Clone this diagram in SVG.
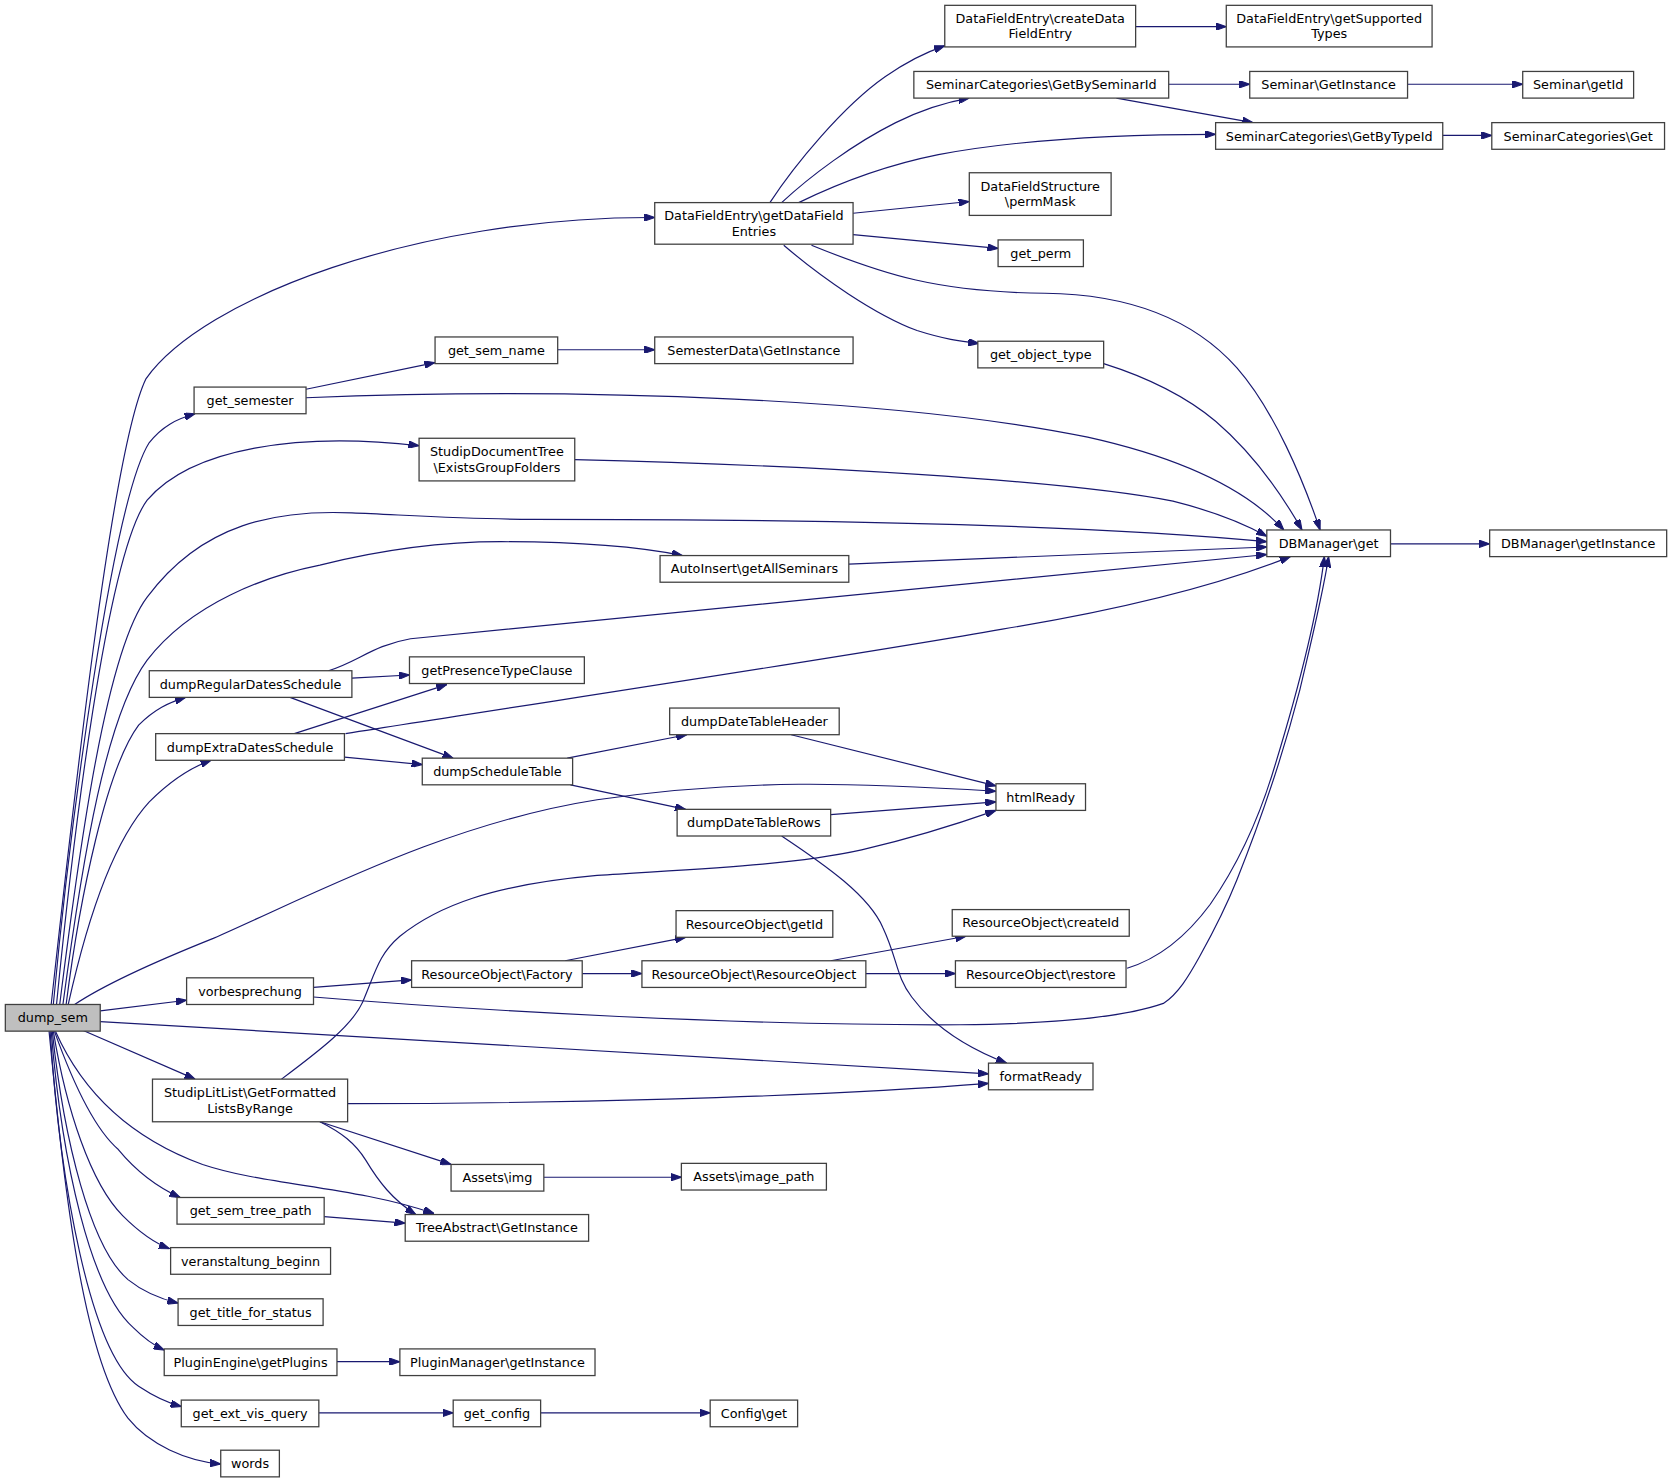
<svg xmlns="http://www.w3.org/2000/svg" width="1672" height="1483" viewBox="0 0 1672 1483">
<defs>
<marker id="a" markerWidth="10" markerHeight="7" refX="10" refY="3.5" orient="auto" markerUnits="userSpaceOnUse">
<path d="M0,0 L10,3.5 L0,7 z" fill="#191970" stroke="#191970" stroke-width="1"/>
</marker>
<style>
.n rect{fill:#ffffff;stroke:#404040;stroke-width:1.2}
.n.root rect{fill:#bfbfbf}
text{font-family:"DejaVu Sans","Liberation Sans",sans-serif;font-size:12px;text-anchor:middle;fill:#000000}
#edges path{fill:none;stroke:#191970;stroke-width:1.1;marker-end:url(#a)}
</style>
</defs>
<rect width="1672" height="1483" fill="#ffffff"/>
<g transform="scale(1.06633)">
<g id="edges">
<path d="M48,942 C68,760 105,420 137,355 C190,280 390,203 614,204"/>
<path d="M50,942 C65,780 105,470 140,415 C152,400 165,393 183,388"/>
<path d="M53,942 C68,790 100,520 138,469 C180,420 280,405 393,418"/>
<path d="M56,942 C75,790 100,610 138,560 C190,490 260,478 330,481 C380,483 440,487 500,487 C700,487 1000,490 1188,508"/>
<path d="M59,942 C78,800 100,670 138,619 C180,565 250,540 300,530 C360,515 420,508 470,508 C540,508 600,513 640,521"/>
<path d="M62,942 C75,840 100,720 130,680 C145,665 158,659 174,654"/>
<path d="M64,942 C80,870 105,790 140,752 C160,732 178,720 198,713"/>
<path d="M70,942 C100,922 150,900 200,880 C300,836 420,772 560,750 C700,730 800,734 934,742"/>
<path d="M94,948 L175,938"/>
<path d="M94,958 L927,1007"/>
<path d="M77,966 L183,1012"/>
<path d="M52,967 C80,1030 130,1070 190,1092 C250,1112 330,1112 407,1138"/>
<path d="M51,967 C70,1020 90,1060 111,1078 C125,1095 145,1112 169,1123"/>
<path d="M50,967 C62,1040 85,1110 115,1140 C130,1155 143,1165 159,1171"/>
<path d="M49,967 C60,1070 85,1170 120,1200 C135,1212 150,1218 167,1222"/>
<path d="M48,967 C58,1090 85,1210 125,1245 C135,1255 145,1262 154,1266"/>
<path d="M47,967 C56,1110 85,1270 130,1300 C145,1310 155,1315 170,1319"/>
<path d="M46,967 C58,1090 75,1270 120,1330 C140,1355 175,1370 207,1373"/>
<path d="M722,190 C745,155 790,100 830,72 C850,58 865,50 886,43"/>
<path d="M733,190 C760,165 800,135 840,115 C860,105 880,97 909,92"/>
<path d="M749,190 C790,170 830,155 880,145 C960,130 1050,126 1140,126"/>
<path d="M800,200 L909,189"/>
<path d="M800,220 L936,233"/>
<path d="M761,230 C830,258 880,274 980,275 C1060,276 1120,300 1160,345 C1195,385 1222,450 1238,497"/>
<path d="M735,230 C770,260 820,295 860,310 C885,318 900,320 918,322"/>
<path d="M1065,25 L1150,25"/>
<path d="M1096,79 L1172,79"/>
<path d="M1047,92 L1175,115"/>
<path d="M1320,79 L1428,79"/>
<path d="M1353,127 L1399,127"/>
<path d="M523,328 L614,328"/>
<path d="M287,365 L408,340"/>
<path d="M287,373 C550,362 850,375 1020,410 C1110,430 1170,460 1204,497"/>
<path d="M539,431 C750,436 1000,450 1100,470 C1140,480 1165,490 1188,503"/>
<path d="M1035,341 C1070,352 1110,370 1140,395 C1175,425 1200,460 1221,497"/>
<path d="M1304,510 L1397,510"/>
<path d="M796,529 L1188,513"/>
<path d="M308,629 C335,621 350,605 385,599 C600,578 1000,538 1188,520"/>
<path d="M330,636 L384,633"/>
<path d="M272,654 L425,711"/>
<path d="M276,688 L419,642"/>
<path d="M324,688 C500,660 800,615 940,590 C1050,572 1140,550 1210,522"/>
<path d="M323,710 L396,717"/>
<path d="M532,711 L644,689"/>
<path d="M535,736 L643,759"/>
<path d="M742,689 L934,737"/>
<path d="M779,764 L934,752"/>
<path d="M733,784 C775,812 815,840 828,870 C842,900 840,915 855,935 C875,962 905,982 944,997"/>
<path d="M264,1012 C300,985 330,962 340,940 C352,912 355,895 375,878 C410,850 460,830 560,821 C650,815 740,812 808,797 C860,785 900,772 934,760"/>
<path d="M326,1035 C500,1035 750,1030 927,1016"/>
<path d="M300,1052 L423,1092"/>
<path d="M300,1052 C320,1062 333,1072 343,1088 C355,1108 368,1125 390,1139"/>
<path d="M510,1104 L639,1104"/>
<path d="M304,1141 L380,1147"/>
<path d="M294,926 L386,919"/>
<path d="M294,935 C450,948 700,962 900,961 C1000,960 1060,952 1091,941 C1105,932 1115,915 1125,897 C1140,870 1150,850 1160,825 C1180,775 1200,720 1219,647 C1230,600 1240,560 1246,522"/>
<path d="M530,901 L643,879"/>
<path d="M546,913 L602,913"/>
<path d="M779,901 L906,878"/>
<path d="M812,913 L896,913"/>
<path d="M1057,908 C1090,898 1115,875 1135,848 C1160,812 1180,770 1195,720 C1215,655 1235,580 1242,522"/>
<path d="M316,1277 L375,1277"/>
<path d="M299,1325 L425,1325"/>
<path d="M507,1325 L666,1325"/>
</g>
<g id="n_dump_sem" class="n root"><rect x="5" y="942" width="89" height="25"/><text x="49.5" y="958.8">dump_sem</text></g>
<g id="n_createDataFieldEntry" class="n"><rect x="886" y="5" width="179" height="39"/><text x="975.5" y="21.5">DataFieldEntry\createData</text><text x="975.5" y="36">FieldEntry</text></g>
<g id="n_getSupportedTypes" class="n"><rect x="1150" y="5" width="193" height="39"/><text x="1246.5" y="21.5">DataFieldEntry\getSupported</text><text x="1246.5" y="36">Types</text></g>
<g id="n_GetBySeminarId" class="n"><rect x="857" y="67" width="239" height="25"/><text x="976.5" y="83.8">SeminarCategories\GetBySeminarId</text></g>
<g id="n_Seminar_GetInstance" class="n"><rect x="1172" y="67" width="148" height="25"/><text x="1246" y="83.8">Seminar\GetInstance</text></g>
<g id="n_Seminar_getId" class="n"><rect x="1428" y="67" width="104" height="25"/><text x="1480" y="83.8">Seminar\getId</text></g>
<g id="n_GetByTypeId" class="n"><rect x="1140" y="115" width="213" height="25"/><text x="1246.5" y="131.8">SeminarCategories\GetByTypeId</text></g>
<g id="n_SeminarCategories_Get" class="n"><rect x="1399" y="115" width="162" height="25"/><text x="1480" y="131.8">SeminarCategories\Get</text></g>
<g id="n_permMask" class="n"><rect x="909" y="162" width="133" height="40"/><text x="975.5" y="179">DataFieldStructure</text><text x="975.5" y="193.5">\permMask</text></g>
<g id="n_getDataFieldEntries" class="n"><rect x="614" y="190" width="186" height="39"/><text x="707" y="206.5">DataFieldEntry\getDataField</text><text x="707" y="221">Entries</text></g>
<g id="n_get_perm" class="n"><rect x="936" y="225" width="80" height="25"/><text x="976" y="241.8">get_perm</text></g>
<g id="n_get_sem_name" class="n"><rect x="408" y="316" width="115" height="25"/><text x="465.5" y="332.8">get_sem_name</text></g>
<g id="n_SemesterData_GetInstance" class="n"><rect x="614" y="316" width="186" height="25"/><text x="707" y="332.8">SemesterData\GetInstance</text></g>
<g id="n_get_object_type" class="n"><rect x="917" y="320" width="118" height="25"/><text x="976" y="336.8">get_object_type</text></g>
<g id="n_get_semester" class="n"><rect x="182" y="363" width="105" height="25"/><text x="234.5" y="379.8">get_semester</text></g>
<g id="n_StudipDocumentTree" class="n"><rect x="393" y="411" width="146" height="40"/><text x="466" y="428">StudipDocumentTree</text><text x="466" y="442.5">\ExistsGroupFolders</text></g>
<g id="n_DBManager_get" class="n"><rect x="1188" y="497" width="116" height="25"/><text x="1246" y="513.8">DBManager\get</text></g>
<g id="n_DBManager_getInstance" class="n"><rect x="1397" y="497" width="166" height="25"/><text x="1480" y="513.8">DBManager\getInstance</text></g>
<g id="n_AutoInsert" class="n"><rect x="619" y="521" width="177" height="25"/><text x="707.5" y="537.8">AutoInsert\getAllSeminars</text></g>
<g id="n_getPresenceTypeClause" class="n"><rect x="384" y="616" width="164" height="25"/><text x="466" y="632.8">getPresenceTypeClause</text></g>
<g id="n_dumpRegularDatesSchedule" class="n"><rect x="140" y="629" width="190" height="25"/><text x="235" y="645.8">dumpRegularDatesSchedule</text></g>
<g id="n_dumpDateTableHeader" class="n"><rect x="628" y="664" width="159" height="25"/><text x="707.5" y="680.8">dumpDateTableHeader</text></g>
<g id="n_dumpExtraDatesSchedule" class="n"><rect x="146" y="688" width="177" height="25"/><text x="234.5" y="704.8">dumpExtraDatesSchedule</text></g>
<g id="n_dumpScheduleTable" class="n"><rect x="396" y="711" width="141" height="25"/><text x="466.5" y="727.8">dumpScheduleTable</text></g>
<g id="n_htmlReady" class="n"><rect x="934" y="735" width="84" height="25"/><text x="976" y="751.8">htmlReady</text></g>
<g id="n_dumpDateTableRows" class="n"><rect x="635" y="759" width="144" height="25"/><text x="707" y="775.8">dumpDateTableRows</text></g>
<g id="n_ResourceObject_getId" class="n"><rect x="634" y="854" width="147" height="25"/><text x="707.5" y="870.8">ResourceObject\getId</text></g>
<g id="n_ResourceObject_createId" class="n"><rect x="893" y="853" width="166" height="25"/><text x="976" y="869.8">ResourceObject\createId</text></g>
<g id="n_vorbesprechung" class="n"><rect x="175" y="917" width="119" height="25"/><text x="234.5" y="933.8">vorbesprechung</text></g>
<g id="n_ResourceObject_Factory" class="n"><rect x="386" y="901" width="160" height="25"/><text x="466" y="917.8">ResourceObject\Factory</text></g>
<g id="n_ResourceObject_ResourceObject" class="n"><rect x="602" y="901" width="210" height="25"/><text x="707" y="917.8">ResourceObject\ResourceObject</text></g>
<g id="n_ResourceObject_restore" class="n"><rect x="896" y="901" width="160" height="25"/><text x="976" y="917.8">ResourceObject\restore</text></g>
<g id="n_formatReady" class="n"><rect x="927" y="997" width="98" height="25"/><text x="976" y="1013.8">formatReady</text></g>
<g id="n_StudipLitList" class="n"><rect x="143" y="1012" width="183" height="40"/><text x="234.5" y="1029">StudipLitList\GetFormatted</text><text x="234.5" y="1043.5">ListsByRange</text></g>
<g id="n_Assets_img" class="n"><rect x="423" y="1092" width="87" height="25"/><text x="466.5" y="1108.8">Assets\img</text></g>
<g id="n_Assets_image_path" class="n"><rect x="639" y="1091" width="136" height="25"/><text x="707" y="1107.8">Assets\image_path</text></g>
<g id="n_get_sem_tree_path" class="n"><rect x="166" y="1123" width="138" height="25"/><text x="235" y="1139.8">get_sem_tree_path</text></g>
<g id="n_TreeAbstract" class="n"><rect x="380" y="1139" width="172" height="25"/><text x="466" y="1155.8">TreeAbstract\GetInstance</text></g>
<g id="n_veranstaltung_beginn" class="n"><rect x="160" y="1170" width="150" height="25"/><text x="235" y="1186.8">veranstaltung_beginn</text></g>
<g id="n_get_title_for_status" class="n"><rect x="167" y="1218" width="136" height="25"/><text x="235" y="1234.8">get_title_for_status</text></g>
<g id="n_PluginEngine" class="n"><rect x="154" y="1265" width="162" height="25"/><text x="235" y="1281.8">PluginEngine\getPlugins</text></g>
<g id="n_PluginManager" class="n"><rect x="375" y="1265" width="183" height="25"/><text x="466.5" y="1281.8">PluginManager\getInstance</text></g>
<g id="n_get_ext_vis_query" class="n"><rect x="170" y="1313" width="129" height="25"/><text x="234.5" y="1329.8">get_ext_vis_query</text></g>
<g id="n_get_config" class="n"><rect x="425" y="1313" width="82" height="25"/><text x="466" y="1329.8">get_config</text></g>
<g id="n_Config_get" class="n"><rect x="666" y="1313" width="82" height="25"/><text x="707" y="1329.8">Config\get</text></g>
<g id="n_words" class="n"><rect x="207" y="1360" width="55" height="25"/><text x="234.5" y="1376.8">words</text></g>
</g>
</svg>
